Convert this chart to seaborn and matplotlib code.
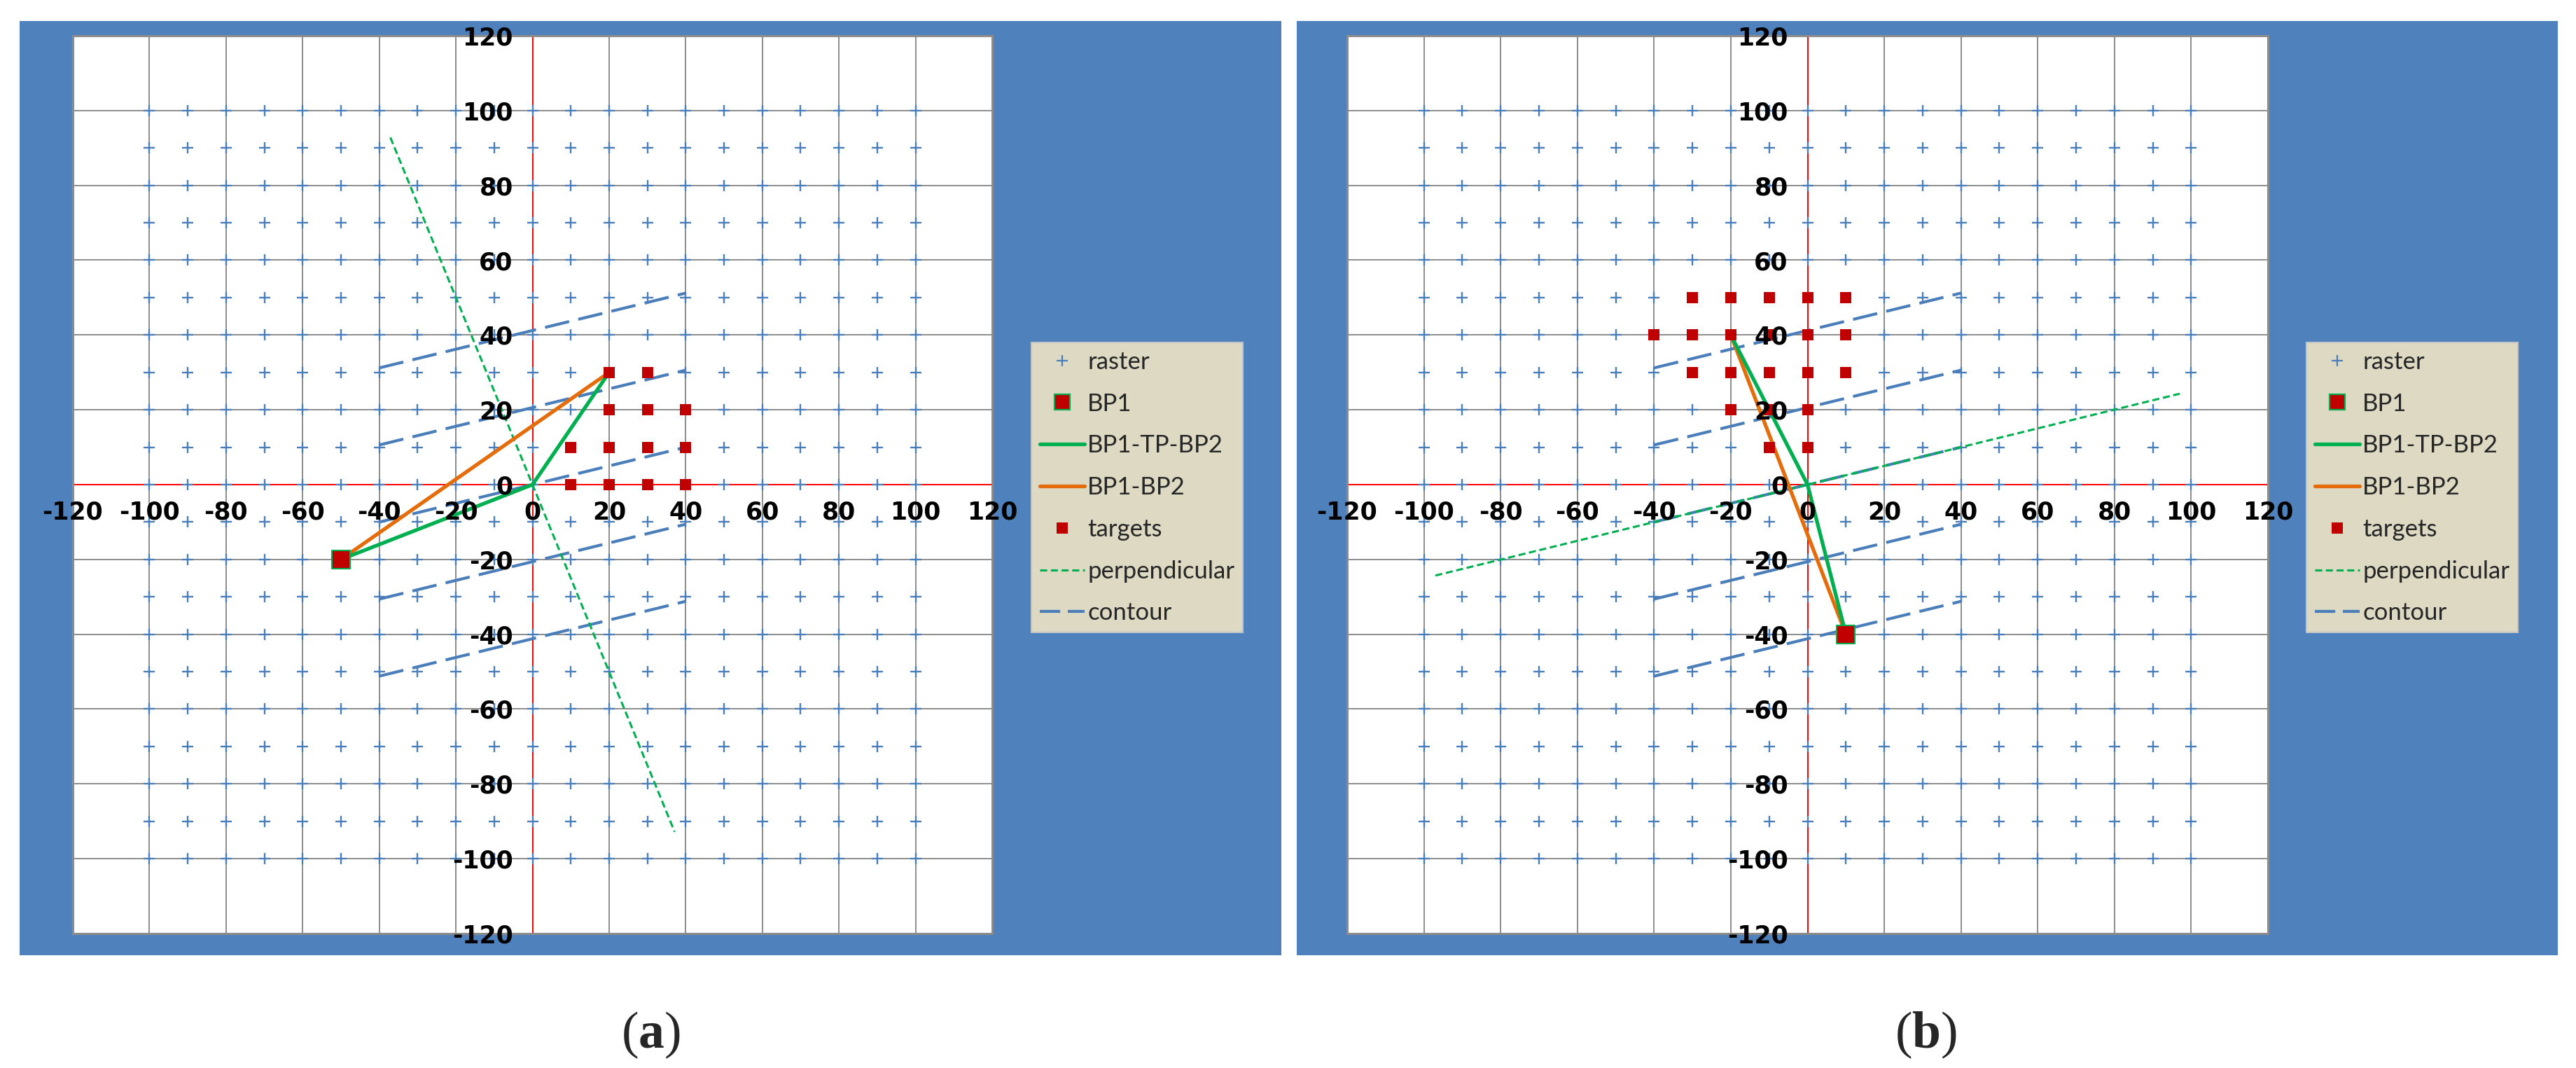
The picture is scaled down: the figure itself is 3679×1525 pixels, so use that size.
import matplotlib
matplotlib.use("Agg")
import matplotlib.pyplot as plt
from matplotlib.patches import Rectangle
from matplotlib.lines import Line2D
import numpy as np
import pandas as pd
import seaborn as sns

# ---------------- data ----------------
raster_values = [-100, -90, -80, -70, -60, -50, -40, -30, -20, -10, 0,
                 10, 20, 30, 40, 50, 60, 70, 80, 90, 100]
axis_ticks = [-120, -100, -80, -60, -40, -20, 0, 20, 40, 60, 80, 100, 120]

contour_x0 = [-40, -40, -40, -40, -40]
contour_y0 = [31.2, 10.6, -10.0, -30.6, -51.2]
contour_x1 = [40, 40, 40, 40, 40]
contour_y1 = [51.2, 30.6, 10.0, -10.6, -31.2]

# panel (a)
a_bp1_x = [-50]
a_bp1_y = [-20]
a_path_x = [-50, 0, 20]
a_path_y = [-20, 0, 30]
a_direct_x = [-50, 20]
a_direct_y = [-20, 30]
a_targets_x = [20, 30, 20, 30, 40, 10, 20, 30, 40, 10, 20, 30, 40]
a_targets_y = [30, 30, 20, 20, 20, 10, 10, 10, 10, 0, 0, 0, 0]
a_perp_x = [-37.1, 37.1]
a_perp_y = [92.8, -92.8]

# panel (b)
b_bp1_x = [10]
b_bp1_y = [-40]
b_path_x = [10, 0, -20]
b_path_y = [-40, 0, 40]
b_direct_x = [10, -20]
b_direct_y = [-40, 40]
b_targets_x = [-30, -20, -10, 0, 10,
               -40, -30, -20, -10, 0, 10,
               -30, -20, -10, 0, 10,
               -20, -10, 0,
               -10, 0]
b_targets_y = [50, 50, 50, 50, 50,
               40, 40, 40, 40, 40, 40,
               30, 30, 30, 30, 30,
               20, 20, 20,
               10, 10]
b_perp_x = [-97.0, 97.0]
b_perp_y = [-24.3, 24.3]

legend_labels = ["raster", "BP1", "BP1-TP-BP2", "BP1-BP2", "targets",
                 "perpendicular", "contour"]
captions = ["a", "b"]

# ---------------- style ----------------
FRAME_BLUE = "#4F81BD"
RASTER_BLUE = "#4A7EBB"
DARK_RED = "#C00000"
GREEN = "#00B050"
ORANGE = "#E46C0A"
GRID_GRAY = "#8C8C8C"
LEGEND_BG = "#DDD9C3"

sns.set_theme(style="white")
plt.rcParams["font.family"] = ["Liberation Sans Narrow", "DejaVu Sans"]
plt.rcParams["mathtext.fontset"] = "custom"
plt.rcParams["mathtext.rm"] = "Liberation Serif"
plt.rcParams["mathtext.bf"] = "Liberation Serif:bold"

W, H = 3679, 1525
DPI = 100
fig = plt.figure(figsize=(W / DPI, H / DPI), dpi=DPI, facecolor="white")


def fx(px):
    return px / W


def fy(py):
    return 1 - py / H


# blue frames
for x0, x1 in [(28, 1830), (1852, 3653)]:
    fig.add_artist(Rectangle((fx(x0), fy(1364)), fx(x1) - fx(x0), fy(30) - fy(1364),
                             transform=fig.transFigure, facecolor=FRAME_BLUE,
                             edgecolor="none", zorder=-5))

raster_x = [x for y in raster_values for x in raster_values]
raster_y = [y for y in raster_values for x in raster_values]

contour_df = pd.DataFrame({
    "x": [v for pair in zip(contour_x0, contour_x1) for v in pair],
    "y": [v for pair in zip(contour_y0, contour_y1) for v in pair],
    "seg": [i for i in range(len(contour_x0)) for _ in range(2)],
})

panels = [
    dict(left=104, right=1417, bp1=(a_bp1_x, a_bp1_y), path=(a_path_x, a_path_y),
         direct=(a_direct_x, a_direct_y), targets=(a_targets_x, a_targets_y),
         perp=(a_perp_x, a_perp_y), legend_x=1473, cap_x=929),
    dict(left=1924, right=3239, bp1=(b_bp1_x, b_bp1_y), path=(b_path_x, b_path_y),
         direct=(b_direct_x, b_direct_y), targets=(b_targets_x, b_targets_y),
         perp=(b_perp_x, b_perp_y), legend_x=3294, cap_x=2750),
]

top_px, bot_px = 51, 1333

for i, p in enumerate(panels):
    ax = fig.add_axes([fx(p["left"]), fy(bot_px), fx(p["right"]) - fx(p["left"]),
                       fy(top_px) - fy(bot_px)])
    ax.set_facecolor("white")
    ax.set_xlim(-120, 120)
    ax.set_ylim(-120, 120)

    # grid lines
    for t in axis_ticks[1:-1]:
        ax.axvline(t, color=GRID_GRAY, lw=1.4, zorder=0.5)
        ax.axhline(t, color=GRID_GRAY, lw=1.4, zorder=0.5)

    # raster
    sns.scatterplot(x=raster_x, y=raster_y, marker="+", color=RASTER_BLUE, s=135,
                    linewidth=1.7, ax=ax, zorder=2, legend=False)

    # contour lines
    sns.lineplot(data=contour_df, x="x", y="y", units="seg", estimator=None, sort=False,
                 color=RASTER_BLUE, lw=3.0, linestyle=(0, (8.5, 3.2)), ax=ax,
                 zorder=3, legend=False)

    # perpendicular
    sns.lineplot(x=p["perp"][0], y=p["perp"][1], sort=False, estimator=None,
                 color=GREEN, lw=2.2, linestyle=(0, (3.3, 1.7)), ax=ax, zorder=3,
                 legend=False)

    # BP1-BP2
    sns.lineplot(x=p["direct"][0], y=p["direct"][1], sort=False, estimator=None,
                 color=ORANGE, lw=3.8, ax=ax, zorder=4, legend=False)
    # BP1-TP-BP2
    sns.lineplot(x=p["path"][0], y=p["path"][1], sort=False, estimator=None,
                 color=GREEN, lw=3.8, ax=ax, zorder=4, legend=False)

    # targets
    sns.scatterplot(x=p["targets"][0], y=p["targets"][1], marker="s", color=DARK_RED,
                    s=140, linewidth=0, ax=ax, zorder=5, legend=False)
    # BP1
    sns.scatterplot(x=p["bp1"][0], y=p["bp1"][1], marker="s", color=DARK_RED,
                    edgecolor=GREEN, s=340, linewidth=1.5, ax=ax, zorder=6, legend=False)

    # axes through origin
    for side in ["top", "right"]:
        ax.spines[side].set_visible(False)
    for side in ["left", "bottom"]:
        ax.spines[side].set_position(("data", 0))
        ax.spines[side].set_color("#FF0000")
        ax.spines[side].set_linewidth(1.4)
        ax.spines[side].set_zorder(1.5)
    ax.add_patch(Rectangle((0, 0), 1, 1, transform=ax.transAxes, fill=False,
                           edgecolor=GRID_GRAY, lw=2.2, clip_on=False, zorder=7))

    ax.set_xticks(axis_ticks)
    ax.set_yticks(axis_ticks)
    ax.set_xticklabels([str(t) for t in axis_ticks])
    ax.set_yticklabels([str(t) for t in axis_ticks])
    ax.tick_params(axis="both", direction="out", length=7, width=1.4, colors="#FF0000",
                   labelcolor="black", labelsize=25)
    ax.tick_params(axis="x", pad=9)
    ax.tick_params(axis="y", pad=13)
    for lab in ax.get_xticklabels() + ax.get_yticklabels():
        lab.set_fontweight("bold")
    ax.xaxis.set_zorder(8)
    ax.yaxis.set_zorder(8)
    ax.set_xlabel("")
    ax.set_ylabel("")

    # legend
    handles = [
        Line2D([], [], ls="none", marker="+", color=RASTER_BLUE, markersize=11, mew=1.6),
        Line2D([], [], ls="none", marker="s", markerfacecolor=DARK_RED,
               markeredgecolor=GREEN, markersize=16.5, mew=1.6),
        Line2D([], [], color=GREEN, lw=3.8),
        Line2D([], [], color=ORANGE, lw=3.8),
        Line2D([], [], ls="none", marker="s", color=DARK_RED, markersize=12, mew=0),
        Line2D([], [], color=GREEN, lw=2.2, ls=(0, (3.3, 1.7))),
        Line2D([], [], color=RASTER_BLUE, lw=3.0, ls=(0, (7.0, 2.6))),
    ]
    leg = ax.legend(handles, legend_labels, loc="upper left",
                    bbox_to_anchor=(fx(p["legend_x"]), fy(489)),
                    bbox_transform=fig.transFigure, borderaxespad=0,
                    prop={"family": ["Lato", "DejaVu Sans"], "size": 25},
                    handlelength=1.85, handletextpad=0.12, labelspacing=0.8,
                    borderpad=0.34, fancybox=False, frameon=True, framealpha=1)
    leg.get_frame().set_facecolor(LEGEND_BG)
    leg.get_frame().set_edgecolor("#C4C4C4")
    leg.get_frame().set_linewidth(1.5)
    leg.set_zorder(9)

    fig.text(fx(p["cap_x"]), fy(1478), "(" + r"$\mathbf{" + captions[i] + "}$" + ")",
             ha="center", va="center", fontsize=53,
             family=["Liberation Serif", "DejaVu Serif"])

fig.savefig("out.png", dpi=DPI, facecolor="white")
